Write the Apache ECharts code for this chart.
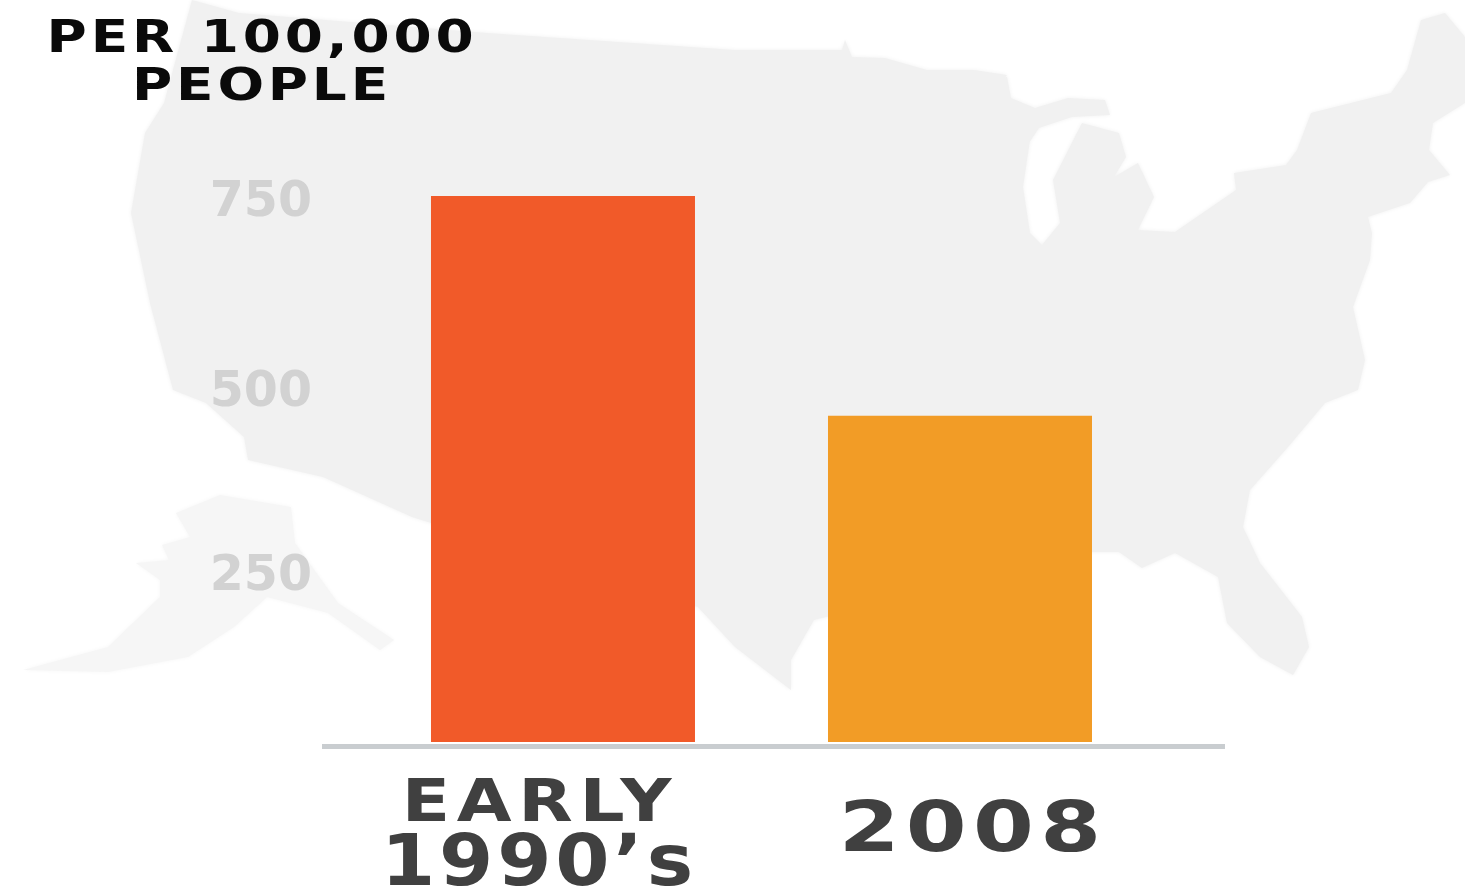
<!DOCTYPE html>
<html><head><meta charset="utf-8">
<style>html,body{margin:0;padding:0;background:#fff}#c{width:1465px;height:896px}</style>
<script src="https://cdn.jsdelivr.net/npm/echarts@6/dist/echarts.min.js"></script>
</head><body><div id="c"></div>
<script>
const categories = ["EARLY\n1990’s", "2008"];
const values = [750, 448];
const barColors = ["#F15A29", "#F29C26"];
const yTicks = [250, 500, 750];
const unitTitle = "PER 100,000\nPEOPLE";

const usOutline = [[192,0],[239,13],[487,33],[735,50],[842,50],[845,40],[852,57],[885,58],[927,70],[974,70],[1007,75],[990,95],[950,110],[913,110],[950,85],[1007,77],[1011,98],[1035,108],[1068,98],[1105,100],[1110,115],[1072,117],[1039,128],[1016,162],[1030,140],[1023,187],[1030,233],[1042,245],[1060,223],[1053,180],[1082,123],[1119,133],[1126,157],[1114,177],[1138,163],[1154,197],[1138,230],[1175,232],[1236,190],[1234,173],[1286,165],[1297,150],[1311,113],[1391,93],[1407,70],[1421,20],[1445,13],[1465,37],[1465,103],[1433,123],[1429,150],[1450,175],[1428,182],[1410,203],[1368,217],[1372,233],[1370,260],[1353,307],[1365,360],[1358,390],[1325,403],[1288,447],[1250,490],[1243,527],[1260,563],[1302,617],[1309,647],[1293,675],[1260,657],[1227,623],[1218,577],[1175,553],[1142,568],[1119,552],[1091,552],[814,620],[791,660],[791,690],[735,647],[698,607],[412,517],[323,477],[248,460],[244,437],[206,403],[173,390],[150,303],[131,213],[145,133],[164,103]];
const alaskaOutline = [[220,495],[291,507],[295,543],[338,603],[394,640],[380,650],[328,613],[267,597],[234,627],[188,657],[108,672],[23,670],[108,647],[160,597],[160,580],[136,563],[169,560],[162,545],[190,537],[176,513]];

// Wide display type: horizontal stretch and tracking, keyed by font size.
const wide = {45: [1.22, 3.1], 59: [1.2, 5.6], 71: [1.1, 3.4], 70: [1.25, 5]};
const cfg = ctx => {
  const m = /(\d+(?:\.\d+)?)px/.exec(ctx.font);
  return (m && wide[+m[1]]) || [1, 0];
};
const proto = CanvasRenderingContext2D.prototype;
const origFill = proto.fillText, origMeasure = proto.measureText;
proto.fillText = function (text, x, y, ...rest) {
  const [sx, ls] = cfg(this);
  this.letterSpacing = ls + 'px';
  if (sx === 1) return origFill.call(this, text, x, y, ...rest);
  this.save();
  this.translate(x, y);
  this.scale(sx, 1);
  origFill.call(this, text, 0, 0);
  this.restore();
};
proto.measureText = function (text) {
  const [sx, ls] = cfg(this);
  this.letterSpacing = ls + 'px';
  const r = origMeasure.call(this, text);
  if (sx === 1) return r;
  return {width: r.width * sx, actualBoundingBoxAscent: r.actualBoundingBoxAscent, actualBoundingBoxDescent: r.actualBoundingBoxDescent};
};

const font = '"DejaVu Sans", sans-serif';
const chart = echarts.init(document.getElementById('c'), null, {renderer: 'canvas'});
const yRich = {
  t750: {padding: [14, 0, 0, 0]},
  t500: {padding: [30, 0, 0, 0]},
  t250: {padding: [34, 0, 0, 0]}
};
const xStyle = {fontFamily: font, fontWeight: 'bold', color: '#404040'};
const softEdge = c => ({fill: c, shadowBlur: 4, shadowColor: c});
chart.setOption({
  animation: false,
  backgroundColor: '#fff',
  title: {
    text: unitTitle, left: 257, top: 11, textAlign: 'center',
    textStyle: {fontFamily: font, fontWeight: 'bold', fontSize: 45, lineHeight: 48, color: '#0a0a0a'}
  },
  graphic: [
    {type: 'polygon', z: -5, shape: {points: usOutline}, style: softEdge('#f1f1f1'), silent: true},
    {type: 'polygon', z: -5, shape: {points: alaskaOutline}, style: softEdge('#f6f6f6'), silent: true}
  ],
  grid: {left: 322, right: 240, top: 196, bottom: 154, outerBoundsMode: 'none'},
  xAxis: {
    type: 'value', min: -0.607, max: 1.6675,
    splitLine: {show: false}, axisTick: {show: false},
    offset: 4,
    axisLine: {show: true, onZero: false, lineStyle: {color: '#c9cdd0', width: 5, cap: 'butt'}},
    axisLabel: {
      customValues: [0, 1], margin: 29,
      formatter: v => v === 0
        ? categories[0].split('\n').map((s, i) => `{${i ? 'n' : 'e'}|${s}}`).join('\n')
        : `{y|${categories[1]}}`,
      rich: {
        e: {...xStyle, fontSize: 59, lineHeight: 61, padding: [0, 46, 0, 0]},
        n: {...xStyle, fontSize: 71, lineHeight: 61, padding: [0, 48, 0, 0]},
        y: {...xStyle, fontSize: 70, lineHeight: 61, padding: [54, 0, 0, 26]}
      }
    }
  },
  yAxis: {
    type: 'value', min: 0, max: 750, interval: 250,
    splitLine: {show: false}, axisTick: {show: false}, axisLine: {show: false},
    axisLabel: {
      margin: 10, fontFamily: font, fontWeight: 'bold', fontSize: 49, color: '#d2d2d2',
      formatter: v => yTicks.includes(v) ? `{t${v}|${v}}` : '',
      rich: yRich
    }
  },
  series: [{
    type: 'bar', barWidth: 264,
    data: values.map((v, i) => ({value: [i, v], itemStyle: {color: barColors[i]}}))
  }]
});
</script></body></html>
